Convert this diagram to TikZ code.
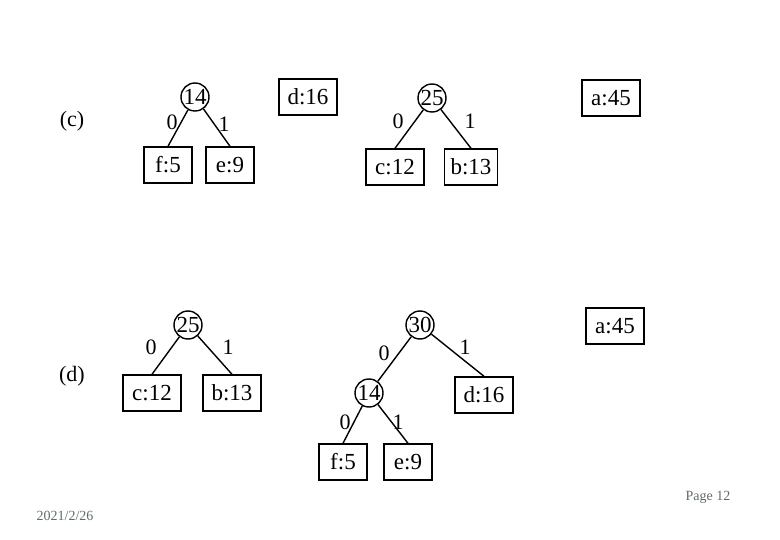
\documentclass[tikz,border=0pt]{standalone}
\usepackage{fontspec}
\setmainfont{Liberation Serif}
\usetikzlibrary{positioning}
\definecolor{hfGray}{HTML}{5F6B6B}
\tikzset{
  hfnode/.style={draw, line width=1.4pt, font=\fontsize{23}{26}\selectfont, inner sep=0pt},
  leaf/.style={hfnode, rectangle, minimum height=36pt, minimum width=48pt, inner xsep=6pt},
  weight/.style={hfnode, circle, minimum size=28pt},
  bit/.style={font=\fontsize{22}{26}\selectfont, inner sep=1pt},
  hfedge/.style={line width=1.4pt},
  caption/.style={font=\fontsize{22}{26}\selectfont},
  footer/.style={font=\fontsize{14}{16}\selectfont, text=hfGray}
}

\begin{document}
\begin{tikzpicture}[x=1pt, y=-1pt]
  \useasboundingbox (0,0) rectangle (780,540);

  % step (c)
  \node[caption] (capc) at (72,121) {(c)};
  \node[weight] (c14) at (195,97) {14};
  \node[leaf] (cf) at (168,165) {f:5};
  \node[leaf] (ce) at (230,165) {e:9};
  \draw[hfedge] (c14) -- (cf.north);
  \draw[hfedge] (c14) -- (ce.north);
  \node[bit] (c14l) at (172,122) {0};
  \node[bit] (c14r) at (224,124) {1};

  \node[leaf, minimum width=58pt] (cd) at (308,97) {d:16};

  \node[weight] (c25) at (432,98) {25};
  \node[leaf, minimum width=58pt] (cc) at (395,167) {c:12};
  \node[leaf] (cb) at (471,167) {b:13};
  \draw[hfedge] (c25) -- (cc.north);
  \draw[hfedge] (c25) -- (cb.north);
  \node[bit] (c25l) at (398,121) {0};
  \node[bit] (c25r) at (470,121) {1};

  \node[leaf, minimum width=58pt] (ca) at (611,98) {a:45};

  % step (d)
  \node[caption] (capd) at (72,376) {(d)};
  \node[weight] (d25) at (188,325) {25};
  \node[leaf, minimum width=58pt] (dc) at (152,393) {c:12};
  \node[leaf, minimum width=58pt] (db) at (232,393) {b:13};
  \draw[hfedge] (d25) -- (dc.north);
  \draw[hfedge] (d25) -- (db.north);
  \node[bit] (d25l) at (151,347) {0};
  \node[bit] (d25r) at (228,347) {1};

  \node[weight] (d30) at (420,325) {30};
  \node[weight] (d14) at (369,393) {14};
  \node[leaf, minimum width=58pt] (dd) at (484,395) {d:16};
  \draw[hfedge] (d30) -- (d14);
  \draw[hfedge] (d30) -- (dd.north);
  \node[bit] (d30l) at (384,353) {0};
  \node[bit] (d30r) at (465,347) {1};

  \node[leaf] (df) at (343,462) {f:5};
  \node[leaf] (de) at (408,462) {e:9};
  \draw[hfedge] (d14) -- (df.north);
  \draw[hfedge] (d14) -- (de.north);
  \node[bit] (d14l) at (345,422) {0};
  \node[bit] (d14r) at (398,422) {1};

  \node[leaf, minimum width=58pt] (da) at (615,326) {a:45};

  % footer
  \node[footer] (date) at (65,516) {2021/2/26};
  \node[footer] (page) at (708,497) {Page 12};
\end{tikzpicture}
\end{document}
